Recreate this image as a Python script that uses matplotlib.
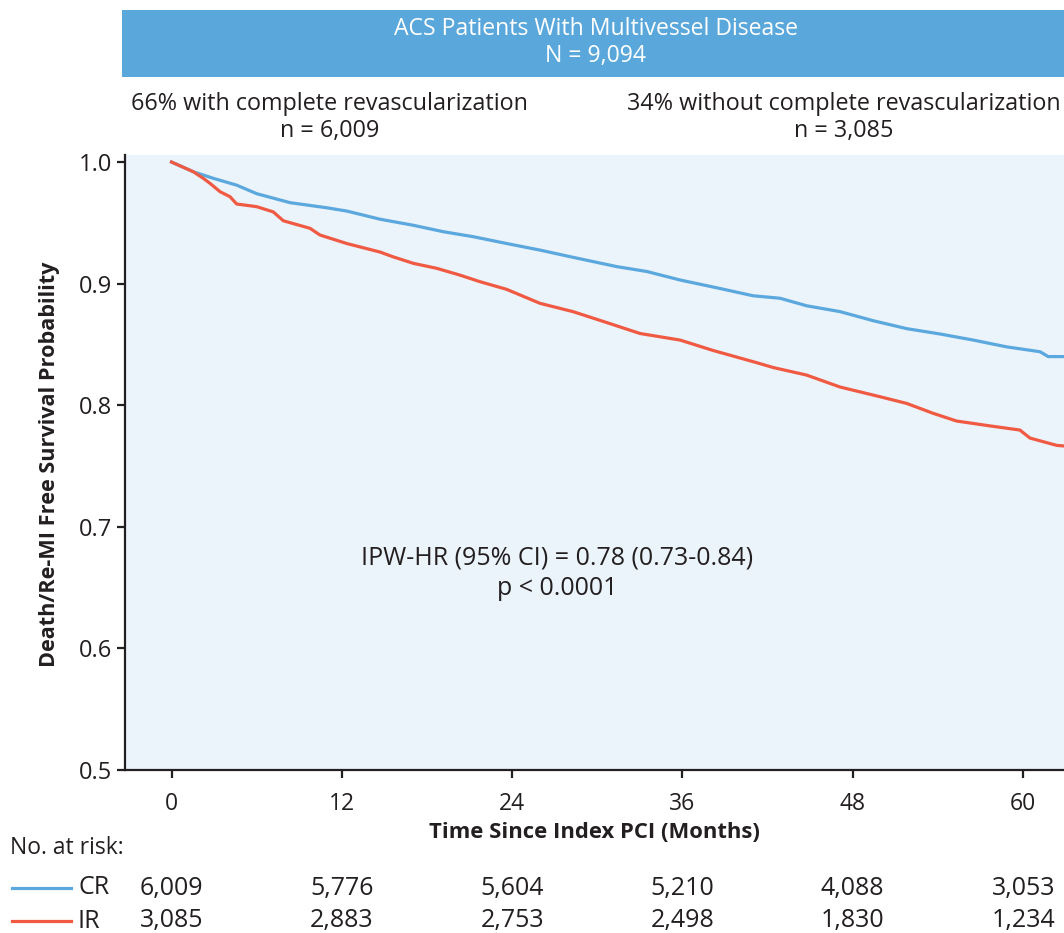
import matplotlib
matplotlib.use("Agg")
import matplotlib.pyplot as plt
from matplotlib import font_manager
from matplotlib.patches import Rectangle
from matplotlib.lines import Line2D

# ---------------- data ----------------
cr_months = [0.0, 1.54, 2.95, 4.59, 6.00, 8.35, 10.94, 12.35, 14.69, 17.04, 19.16,
             21.27, 23.62, 25.97, 28.32, 31.38, 33.49, 35.84, 38.66, 41.00, 42.88,
             44.76, 47.11, 49.46, 51.81, 54.16, 56.50, 58.86, 61.21, 61.79, 62.89]
cr_surv = [1.0, 0.992, 0.9866, 0.981, 0.974, 0.9666, 0.9624, 0.9597, 0.953, 0.948, 0.9427,
           0.9386, 0.933, 0.9276, 0.9216, 0.914, 0.910, 0.903, 0.896, 0.890, 0.888,
           0.8818, 0.877, 0.8695, 0.863, 0.8586, 0.8536, 0.848, 0.844, 0.840, 0.840]

ir_months = [0.0, 1.54, 2.24, 2.71, 3.42, 4.12, 4.59, 6.00, 7.17, 7.88, 9.76, 10.46,
             12.35, 14.69, 15.63, 17.04, 18.69, 20.33, 21.74, 23.62, 25.97, 28.32,
             30.67, 33.02, 35.84, 38.18, 41.24, 42.41, 44.76, 47.11, 49.93, 51.81,
             53.69, 55.33, 57.68, 59.79, 60.50, 62.38, 62.89]
ir_surv = [1.0, 0.992, 0.9866, 0.9825, 0.9756, 0.9715, 0.9655, 0.9633, 0.959, 0.9517,
           0.9455, 0.940, 0.933, 0.926, 0.922, 0.9167, 0.9126, 0.907, 0.9016, 0.8953,
           0.8838, 0.8769, 0.868, 0.859, 0.8536, 0.845, 0.835, 0.831, 0.8248, 0.815,
           0.807, 0.8015, 0.7933, 0.787, 0.783, 0.7796, 0.773, 0.767, 0.7665]

x_ticks = [0, 12, 24, 36, 48, 60]
y_ticks = [0.5, 0.6, 0.7, 0.8, 0.9, 1.0]
risk_labels = ["CR", "IR"]
risk_cr = ["6,009", "5,776", "5,604", "5,210", "4,088", "3,053"]
risk_ir = ["3,085", "2,883", "2,753", "2,498", "1,830", "1,234"]

# ---------------- styling ----------------
available = {f.name for f in font_manager.fontManager.ttflist}
main_font = "Open Sans" if "Open Sans" in available else "DejaVu Sans"
plt.rcParams['font.family'] = [main_font, 'DejaVu Sans']

BLUE = "#5BA8DE"
RED = "#F05A43"
BG = "#EBF3FB"
HEADER = "#5AA7DB"
TXT = "#231F20"

W, H = 1064, 933
fig = plt.figure(figsize=(W / 100, H / 100), dpi=100)

def fx(px):
    return px / W

def fy(py):
    return 1 - py / H

ax = fig.add_axes([fx(125), fy(770), fx(1064) - fx(125), fy(155) - fy(770)])
ax.set_facecolor(BG)
ax.plot(cr_months, cr_surv, color=BLUE, lw=2.3)
ax.plot(ir_months, ir_surv, color=RED, lw=2.3)
ax.set_xlim(-3.28, 62.9)
ax.set_ylim(0.5, 1.0058)
ax.set_xticks(x_ticks)
ax.set_xticklabels([str(t) for t in x_ticks])
ax.set_yticks(y_ticks)
ax.set_yticklabels([f"{t:.1f}" for t in y_ticks])
for s in ["top", "right"]:
    ax.spines[s].set_visible(False)
for s in ["left", "bottom"]:
    ax.spines[s].set_linewidth(1.6)
    ax.spines[s].set_color(TXT)
ax.tick_params(axis="both", length=5.5, width=1.6, color=TXT, labelcolor=TXT)
ax.tick_params(axis="x", pad=10, labelsize=16.5)
ax.tick_params(axis="y", pad=4, labelsize=17)

ax.text(27.2, 0.6745, "IPW-HR (95% CI) = 0.78 (0.73-0.84)", ha="center", va="center",
        fontsize=18, color=TXT)
ax.text(27.2, 0.649, "p < 0.0001", ha="center", va="center", fontsize=18, color=TXT)

# axis labels
fig.text(fx(594), fy(833), "Time Since Index PCI (Months)", ha="center", va="center",
         fontsize=15.8, fontweight="bold", color=TXT)
fig.text(fx(50), fy(464), "Death/Re-MI Free Survival Probability", ha="center", va="center",
         rotation=90, fontsize=15.6, fontweight="bold", color=TXT)

# header box
fig.patches.append(Rectangle((fx(122), fy(77)), fx(1064) - fx(122), fy(10) - fy(77),
                             transform=fig.transFigure, facecolor=HEADER, edgecolor="none"))
fig.text(fx(596), fy(29), "ACS Patients With Multivessel Disease", ha="center", va="center",
         fontsize=16.6, color="white")
fig.text(fx(596), fy(56), "N = 9,094", ha="center", va="center", fontsize=16.6, color="white")

fig.text(fx(329), fy(104), "66% with complete revascularization", ha="center", va="center",
         fontsize=16.8, color=TXT)
fig.text(fx(330), fy(131), "n = 6,009", ha="center", va="center", fontsize=16.8, color=TXT)
fig.text(fx(844), fy(104), "34% without complete revascularization", ha="center", va="center",
         fontsize=16.8, color=TXT)
fig.text(fx(844), fy(131), "n = 3,085", ha="center", va="center", fontsize=16.8, color=TXT)

# number at risk table
fig.text(fx(10), fy(848), "No. at risk:", ha="left", va="center", fontsize=16.5, color=TXT)
rows = [(risk_labels[0], risk_cr, BLUE, 888), (risk_labels[1], risk_ir, RED, 921)]
for lab, vals, col, ypx in rows:
    fig.lines.append(Line2D([fx(12), fx(71)], [fy(ypx), fy(ypx)], transform=fig.transFigure,
                            color=col, lw=2.3))
    fig.text(fx(78), fy(ypx), lab, ha="left", va="center", fontsize=18, color=TXT)
    for t, v in zip(x_ticks, vals):
        xd = ax.transData.transform((t, 0.5))[0]
        xfig = fig.transFigure.inverted().transform((xd, 0))[0]
        if t == 60:
            xfig = fx(1024)
        fig.text(xfig, fy(ypx), v, ha="center", va="center", fontsize=18, color=TXT)

fig.savefig("out.png", dpi=100, facecolor="white")
